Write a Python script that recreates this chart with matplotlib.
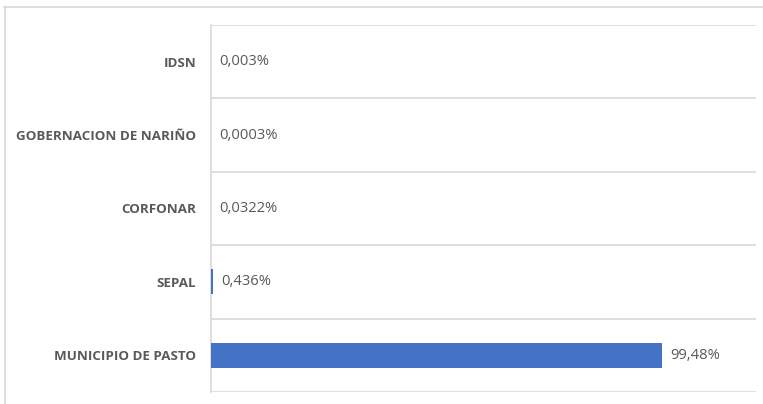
import matplotlib
matplotlib.use("Agg")
import matplotlib.pyplot as plt
from matplotlib.lines import Line2D

categories = ["MUNICIPIO DE PASTO", "SEPAL", "CORFONAR", "GOBERNACION DE NARIÑO", "IDSN"]
values = [99.48, 0.436, 0.0322, 0.0003, 0.003]
value_labels = ["99,48%", "0,436%", "0,0322%", "0,0003%", "0,003%"]

W, H = 763, 404
fig = plt.figure(figsize=(W / 100, H / 100), dpi=100)
plt.rcParams['font.family'] = ['Open Sans', 'DejaVu Sans']

left, right, top, bottom = 211, 756, 25, 392
ax = fig.add_axes([left / W, 1 - bottom / H, (right - left) / W, (bottom - top) / H])

ypos = list(range(len(categories)))
ax.barh(ypos, values, height=0.34, color="#4472C4", zorder=3)
ax.set_xlim(0, 120.2)
ax.set_ylim(-0.5, len(categories) - 0.5)

for y in [i - 0.5 for i in range(len(categories) + 1)]:
    ax.axhline(y, color="#D9D9D9", lw=1.2, zorder=1)

ax.set_yticks(ypos)
ax.set_yticklabels(categories, fontsize=9.6, fontweight="bold", color="#595959")
ax.tick_params(axis="y", length=0, pad=10.5)
ax.set_xticks([])
for s in ["top", "right", "bottom"]:
    ax.spines[s].set_visible(False)
ax.spines["left"].set_color("#D9D9D9")
ax.spines["left"].set_linewidth(1.2)

for y, v, lab in zip(ypos, values, value_labels):
    ax.annotate(lab, (v, y), xytext=(6, 0), textcoords="offset points",
                va="center", ha="left", fontsize=10.6, color="#595959")

# outer chart frame (partially visible)
fig.add_artist(Line2D([4 / W, 1], [1 - 6.5 / H, 1 - 6.5 / H], transform=fig.transFigure,
                      color="#D9D9D9", lw=1.2))
fig.add_artist(Line2D([4.5 / W, 4.5 / W], [0, 1 - 6.5 / H], transform=fig.transFigure,
                      color="#D9D9D9", lw=1.2))

fig.savefig("out.png", dpi=100)
